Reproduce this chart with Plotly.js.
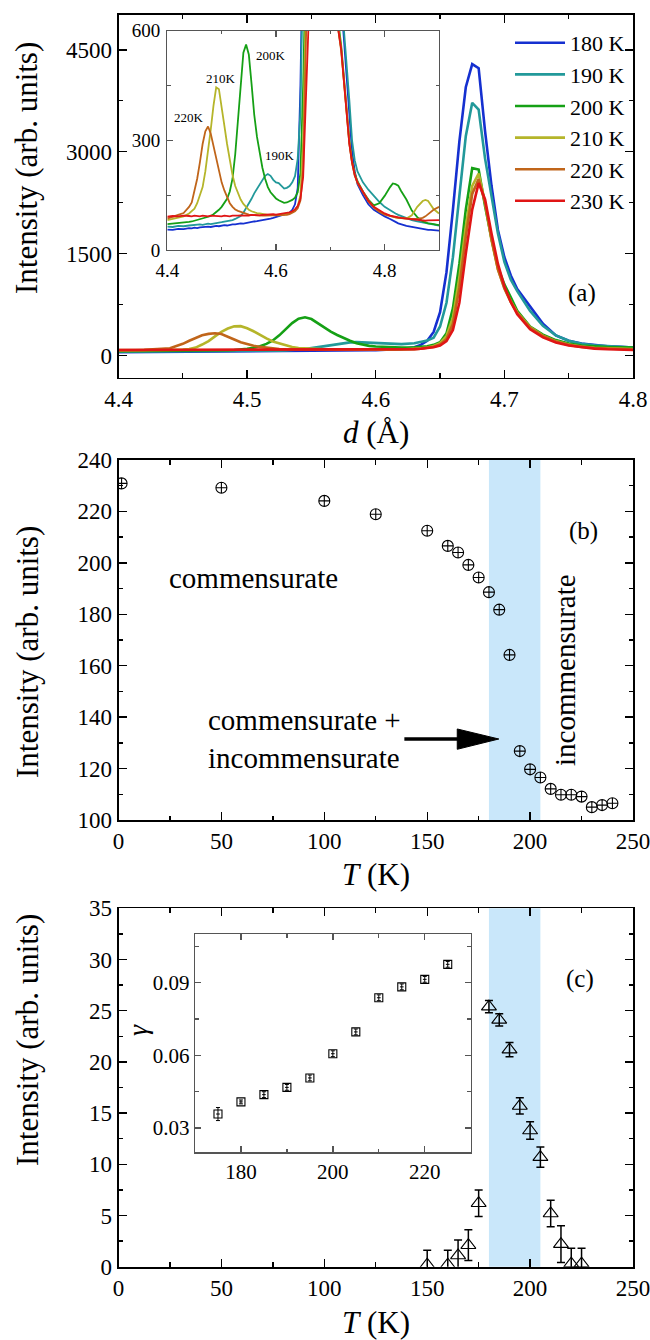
<!DOCTYPE html>
<html><head><meta charset="utf-8">
<script src="https://cdn.plot.ly/plotly-3.0.1.min.js"></script>
<style>html,body{margin:0;padding:0;background:#fff}#chart{width:650px;height:1340px}</style>
</head><body><div id="chart"></div>
<script>
// ---------- Panel (a): main diffraction profiles ----------
const temps = ['180 K', '190 K', '200 K', '210 K', '220 K', '230 K'];
const lineColors = ['#1530d0', '#22999a', '#15a015', '#b5b52a', '#c0651a', '#e01515'];

const mainD = [4.40, 4.42, 4.44, 4.45, 4.455, 4.46, 4.465, 4.47, 4.475, 4.48, 4.485, 4.49, 4.495, 4.50, 4.505, 4.51, 4.515, 4.52, 4.525, 4.53, 4.535, 4.54, 4.545, 4.55, 4.555, 4.56, 4.565, 4.57, 4.575, 4.58, 4.585, 4.59, 4.595, 4.60, 4.61, 4.62, 4.63, 4.635, 4.64, 4.645, 4.65, 4.655, 4.66, 4.665, 4.67, 4.675, 4.68, 4.685, 4.69, 4.695, 4.70, 4.705, 4.71, 4.72, 4.73, 4.74, 4.75, 4.76, 4.77, 4.78, 4.79, 4.80];
const main180 = [52, 54, 56, 57, 57, 58, 58, 59, 59, 60, 60, 61, 61, 62, 63, 63, 64, 65, 65, 66, 67, 68, 68, 69, 70, 71, 72, 73, 74, 75, 76, 78, 80, 82, 88, 100, 125, 160, 220, 350, 640, 1230, 2150, 3150, 3950, 4290, 4230, 3300, 2500, 1850, 1450, 1180, 980, 720, 470, 300, 220, 180, 155, 140, 130, 122];
const main190 = [60, 61, 62, 63, 63, 64, 64, 65, 65, 66, 66, 67, 68, 69, 70, 71, 72, 74, 76, 79, 83, 90, 100, 112, 127, 145, 162, 177, 189, 197, 200, 196, 190, 186, 177, 171, 183, 205, 225, 265, 430, 780, 1450, 2350, 3230, 3720, 3620, 2900, 2350, 1800, 1380, 1120, 950, 660, 440, 300, 220, 175, 152, 140, 130, 122];
const main200 = [67, 68, 70, 71, 72, 72, 73, 74, 75, 77, 80, 85, 92, 102, 118, 140, 175, 225, 300, 395, 480, 545, 565, 540, 480, 410, 355, 305, 260, 220, 185, 160, 145, 135, 125, 122, 125, 130, 140, 160, 200, 330, 700, 1350, 2150, 2760, 2740, 2200, 1720, 1300, 1050, 860, 660, 430, 310, 230, 180, 150, 135, 128, 124, 122];
const main210 = [78, 79, 82, 90, 100, 120, 165, 215, 285, 350, 400, 432, 435, 405, 360, 305, 255, 210, 180, 150, 128, 114, 108, 102, 97, 94, 92, 91, 90, 90, 90, 90, 90, 90, 90, 92, 100, 108, 120, 145, 185, 290, 560, 1150, 1900, 2500, 2680, 2250, 1700, 1270, 1000, 800, 640, 420, 295, 215, 165, 135, 118, 108, 102, 98];
const main220 = [82, 86, 110, 175, 220, 265, 300, 322, 330, 320, 285, 240, 200, 170, 148, 130, 118, 108, 100, 95, 92, 90, 89, 88, 88, 88, 88, 88, 88, 88, 88, 88, 88, 88, 89, 91, 97, 104, 114, 132, 165, 245, 470, 1000, 1750, 2380, 2600, 2250, 1720, 1270, 990, 790, 630, 410, 290, 210, 160, 130, 113, 103, 97, 93];
const main230 = [84, 85, 85, 86, 86, 86, 86, 86, 86, 87, 87, 87, 87, 87, 87, 87, 87, 88, 88, 88, 88, 88, 88, 88, 88, 89, 89, 89, 89, 89, 89, 90, 90, 90, 91, 93, 98, 103, 110, 125, 150, 215, 380, 780, 1500, 2150, 2540, 2300, 1800, 1350, 1020, 790, 610, 390, 270, 195, 150, 122, 105, 95, 88, 85];

// ---------- Panel (a) inset ----------
const insetD = [4.40, 4.41, 4.42, 4.43, 4.44, 4.445, 4.45, 4.455, 4.46, 4.465, 4.47, 4.475, 4.48, 4.485, 4.49, 4.495, 4.50, 4.505, 4.51, 4.515, 4.52, 4.525, 4.53, 4.535, 4.54, 4.545, 4.55, 4.555, 4.56, 4.565, 4.57, 4.575, 4.58, 4.585, 4.59, 4.595, 4.60, 4.605, 4.61, 4.615, 4.62, 4.625, 4.63, 4.635, 4.64, 4.645, 4.65, 4.655, 4.66, 4.67, 4.68, 4.69, 4.70, 4.71, 4.72, 4.725, 4.73, 4.735, 4.74, 4.745, 4.75, 4.76, 4.77, 4.78, 4.79, 4.80, 4.81, 4.815, 4.82, 4.825, 4.83, 4.84, 4.85, 4.86, 4.87, 4.875, 4.88, 4.885, 4.89, 4.90];
const ins180 = [56, 55, 58, 57, 60, 59, 61, 60, 62, 63, 62, 64, 63, 65, 66, 65, 67, 68, 67, 69, 70, 70, 72, 73, 72, 74, 75, 76, 78, 79, 80, 82, 83, 85, 86, 88, 90, 93, 95, 97, 99, 102, 110, 125, 170, 450, 900, 1500, 2200, 3900, 4200, 2500, 1450, 950, 680, 580, 480, 380, 270, 215, 180, 150, 125, 110, 100, 92, 85, 80, 77, 73, 70, 66, 63, 60, 57, 56, 55, 55, 54, 53];
const ins190 = [64, 63, 66, 65, 67, 68, 67, 69, 70, 69, 71, 72, 71, 73, 74, 75, 76, 77, 78, 80, 82, 85, 88, 93, 102, 114, 128, 140, 155, 168, 180, 194, 203, 208, 203, 192, 185, 183, 176, 168, 170, 175, 185, 202, 250, 380, 800, 1300, 1900, 3300, 3600, 2300, 1400, 950, 700, 610, 520, 410, 300, 245, 215, 185, 165, 148, 132, 118, 108, 104, 100, 96, 93, 87, 82, 78, 75, 73, 71, 70, 69, 67];
const ins200 = [71, 72, 74, 75, 77, 78, 80, 81, 83, 85, 87, 90, 93, 98, 103, 110, 118, 128, 140, 160, 195, 262, 350, 455, 540, 562, 535, 455, 370, 310, 262, 225, 195, 172, 158, 148, 141, 136, 132, 129, 130, 133, 137, 143, 158, 210, 450, 800, 1300, 2200, 2750, 1750, 1050, 680, 560, 470, 370, 300, 245, 210, 188, 160, 138, 122, 128, 148, 172, 182, 180, 176, 162, 138, 108, 90, 78, 75, 73, 72, 70, 68];
const ins210 = [82, 86, 89, 92, 100, 106, 113, 128, 148, 172, 215, 268, 330, 395, 445, 440, 395, 340, 290, 243, 205, 175, 155, 138, 126, 117, 110, 106, 103, 101, 100, 98, 97, 96, 96, 95, 95, 95, 96, 97, 98, 100, 104, 110, 120, 150, 300, 650, 1100, 2000, 2650, 1700, 1020, 660, 550, 460, 365, 295, 240, 205, 185, 158, 135, 118, 106, 98, 93, 91, 89, 88, 87, 86, 95, 118, 134, 137, 134, 124, 112, 100];
const ins220 = [86, 92, 96, 101, 118, 130, 160, 195, 240, 290, 325, 338, 318, 285, 245, 210, 185, 163, 145, 128, 118, 111, 107, 104, 101, 99, 97, 96, 95, 95, 95, 94, 94, 94, 94, 94, 94, 94, 94, 95, 96, 98, 101, 106, 114, 135, 220, 520, 900, 1850, 2600, 1720, 1000, 650, 545, 455, 360, 290, 238, 203, 183, 156, 133, 116, 105, 97, 92, 90, 89, 88, 87, 86, 85, 85, 88, 92, 98, 105, 110, 118];
const ins230 = [91, 93, 92, 94, 93, 92, 94, 93, 92, 94, 93, 92, 94, 93, 92, 93, 92, 94, 93, 92, 94, 93, 94, 95, 94, 95, 94, 96, 95, 96, 95, 96, 97, 96, 97, 98, 97, 98, 99, 100, 101, 103, 106, 111, 120, 140, 200, 400, 620, 1600, 2500, 1800, 1000, 650, 550, 460, 360, 290, 240, 205, 185, 160, 135, 118, 108, 100, 94, 92, 90, 89, 88, 86, 84, 81, 80, 80, 81, 81, 82, 82];
const insetPeakLabels = ['200K', '210K', '220K', '190K'];
const insetPeakD = [4.591, 4.498, 4.440, 4.608];
const insetPeakI = [532, 468, 363, 259];

// ---------- Panel (b) ----------
const bT = [1.5, 50, 100, 125, 150, 160, 165, 170, 175, 180, 185, 190, 195, 200, 205, 210, 215, 220, 225, 230, 235, 240];
const bI = [230.9, 229.2, 224.1, 218.9, 212.5, 206.6, 204.0, 199.2, 194.3, 188.6, 181.8, 164.2, 126.8, 119.7, 116.5, 112.1, 109.8, 109.8, 109.1, 105.0, 105.8, 106.5];
const bandT = [180, 205];
const tTicks = [0, 50, 100, 150, 200, 250];

// ---------- Panel (c) ----------
const cT = [150, 160, 165, 170, 175, 180, 185, 190, 195, 200, 205, 210, 215, 220, 225];
const cI = [0.2, 0.2, 1.1, 2.1, 6.2, 25.4, 24.1, 21.2, 15.7, 13.3, 10.7, 5.2, 2.2, 0.3, 0.3];
const cErr = [1.4, 1.4, 1.5, 1.5, 1.3, 0.6, 0.6, 0.7, 0.8, 0.85, 1.0, 1.3, 1.8, 1.5, 1.5];
// inset (c): gamma
const gT = [175, 180, 185, 190, 195, 200, 205, 210, 215, 220, 225];
const gV = [0.0358, 0.0408, 0.0438, 0.0468, 0.0507, 0.0607, 0.0697, 0.0838, 0.0883, 0.0914, 0.0976];
const gErr = [0.0027, 0.0008, 0.0012, 0.0012, 0.0012, 0.0012, 0.0012, 0.0012, 0.0012, 0.0012, 0.0012];

// ---------- build ----------
const F = 'Liberation Serif';
const PX = x => x / 650, PY = y => 1 - y / 1340;
const mainI = [main180, main190, main200, main210, main220, main230];
const insI = [ins180, ins190, ins200, ins210, ins220, ins230];

const traces = [];
mainI.forEach((arr, i) => traces.push({
  x: mainD, y: arr, xaxis: 'x', yaxis: 'y', type: 'scatter', mode: 'lines',
  name: temps[i], line: {color: lineColors[i], width: 2.6}, showlegend: true
}));
insI.forEach((arr, i) => traces.push({
  x: insetD, y: arr, xaxis: 'x2', yaxis: 'y2', type: 'scatter', mode: 'lines',
  name: temps[i], line: {color: lineColors[i], width: 1.8}, showlegend: false
}));
traces.push({
  x: bT, y: bI, xaxis: 'x3', yaxis: 'y3', type: 'scatter', mode: 'markers', showlegend: false,
  marker: {symbol: 'circle-cross-open', size: 11, color: '#000', line: {width: 1.1}}
});
traces.push({
  x: cT, y: cI, xaxis: 'x4', yaxis: 'y4', type: 'scatter', mode: 'markers', showlegend: false,
  marker: {symbol: 'triangle-up-open', size: 13, color: '#000', line: {width: 1.1}},
  error_y: {type: 'data', array: cErr, visible: true, color: '#000', thickness: 1.5, width: 4}
});
traces.push({
  x: gT, y: gV, xaxis: 'x5', yaxis: 'y5', type: 'scatter', mode: 'markers', showlegend: false,
  marker: {symbol: 'square-open', size: 8, color: '#000', line: {width: 1.1}},
  error_y: {type: 'data', array: gErr, visible: true, color: '#000', thickness: 1, width: 2},
  error_x: {type: 'constant', value: 0.4, visible: true, color: '#000', thickness: 1, width: 0}
});

function ax(o, minorDtick, small) {
  return Object.assign({
    showgrid: false, zeroline: false, showline: true,
    linecolor: small ? '#555' : '#000', linewidth: small ? 1.2 : 1.8, mirror: 'ticks',
    ticks: 'inside', ticklen: small ? 6 : 8, tickwidth: 1.3, tickcolor: small ? '#555' : '#000',
    tickfont: {family: F, size: small ? 21 : 23, color: '#000'}, fixedrange: true,
    ticklabeloverflow: 'allow',
    minor: {ticks: 'inside', ticklen: small ? 3.5 : 4.5, tickwidth: 1.3, tickcolor: small ? '#555' : '#000', dtick: minorDtick}
  }, o);
}

const domA = [PX(118.5), PX(633)];
const layout = {
  width: 650, height: 1340, margin: {l: 0, r: 0, t: 0, b: 0},
  paper_bgcolor: '#fff', plot_bgcolor: '#fff',
  font: {family: F, color: '#000'},
  xaxis: ax({domain: domA, range: [4.4, 4.8], dtick: 0.1, tick0: 4.4, anchor: 'y'}, 0.05),
  yaxis: ax({domain: [PY(377.5), PY(14.5)], range: [-320, 5020], dtick: 1500, tick0: 0, anchor: 'x'}, 750),
  xaxis2: ax({domain: [PX(167.3), PX(439)], range: [4.4, 4.9], dtick: 0.2, tick0: 4.4, anchor: 'y2', ticklabelstandoff: 3, tickfont: {family: F, size: 19, color: '#000'}}, 0.1, true),
  yaxis2: ax({domain: [PY(250), PY(30.7)], range: [0, 600], dtick: 300, tick0: 0, anchor: 'x2', ticklabelstandoff: 2, tickfont: {family: F, size: 19, color: '#000'}}, 150, true),
  xaxis3: ax({domain: domA, range: [0, 250], tickmode: 'array', tickvals: tTicks, anchor: 'y3'}, 25),
  yaxis3: ax({domain: [PY(820), PY(460)], range: [100, 240], dtick: 20, tick0: 100, anchor: 'x3'}, 10),
  xaxis4: ax({domain: domA, range: [0, 250], tickmode: 'array', tickvals: tTicks, anchor: 'y4'}, 25),
  yaxis4: ax({domain: [PY(1266.7), PY(908.3)], range: [0, 35], dtick: 5, tick0: 0, anchor: 'x4'}, 2.5),
  xaxis5: ax({domain: [PX(195), PX(470.7)], range: [170, 230], dtick: 20, tick0: 180, anchor: 'y5'}, 10, true),
  yaxis5: ax({domain: [PY(1152.3), PY(934.3)], range: [0.02, 0.11], dtick: 0.03, tick0: 0.03, anchor: 'x5'}, 0.015, true),
  showlegend: true,
  legend: {x: PX(510), y: PY(22), xanchor: 'left', yanchor: 'top', bgcolor: 'rgba(0,0,0,0)',
    font: {family: F, size: 22, color: '#000'}, itemwidth: 50, tracegroupgap: 0},
  shapes: [
    {type: 'rect', xref: 'x3', yref: 'y3 domain', x0: bandT[0], x1: bandT[1], y0: 0, y1: 1, fillcolor: '#c9e7fa', line: {width: 0}, layer: 'below'},
    {type: 'rect', xref: 'x4', yref: 'y4 domain', x0: bandT[0], x1: bandT[1], y0: 0, y1: 1, fillcolor: '#c9e7fa', line: {width: 0}, layer: 'below'},
    // arrow in panel (b)
    {type: 'line', xref: 'x3', yref: 'y3', x0: 138.9, x1: 166, y0: 131.5, y1: 131.5, line: {color: '#000', width: 3.5}},
    {type: 'path', xref: 'x3', yref: 'y3', path: 'M 164.6 135.4 L 184.8 131.5 L 164.6 127.5 Z', fillcolor: '#000', line: {color: '#000', width: 1}}
  ],
  annotations: []
};

const A = layout.annotations;
const title = (text, x, y, size, angle) => A.push({text, xref: 'paper', yref: 'paper', x: PX(x), y: PY(y),
  xanchor: 'center', yanchor: 'middle', showarrow: false, textangle: angle || 0, font: {family: F, size: size, color: '#000'}});
title('Intensity (arb. units)', 27, 168, 31, -90);
title('<i>d</i> (Å)', 376, 432, 31);
title('(a)', 582, 293, 25);
title('Intensity (arb. units)', 27, 652, 31, -90);
title('<i>T</i> (K)', 376, 874, 31);
title('(b)', 583, 531, 25);
title('commensurate', 253, 578, 29);
title('incommensurate', 565, 670, 29, -90);
A.push({text: 'commensurate +<br>incommensurate', xref: 'paper', yref: 'paper', x: PX(206), y: PY(739),
  xanchor: 'left', yanchor: 'middle', align: 'left', showarrow: false, font: {family: F, size: 29, color: '#000'}});
title('Intensity (arb. units)', 27, 1040, 31, -90);
title('<i>T</i> (K)', 376, 1322, 31);
title('(c)', 580, 979, 25);
title('<i>γ</i>', 137, 1030, 28, -90);
insetPeakLabels.forEach((t, i) => A.push({text: t, xref: 'x2', yref: 'y2', x: insetPeakD[i], y: insetPeakI[i],
  xanchor: 'center', yanchor: 'middle', showarrow: false, font: {family: F, size: 13, color: '#000'}}));

Plotly.newPlot('chart', traces, layout, {staticPlot: true, displayModeBar: false});
</script></body></html>
